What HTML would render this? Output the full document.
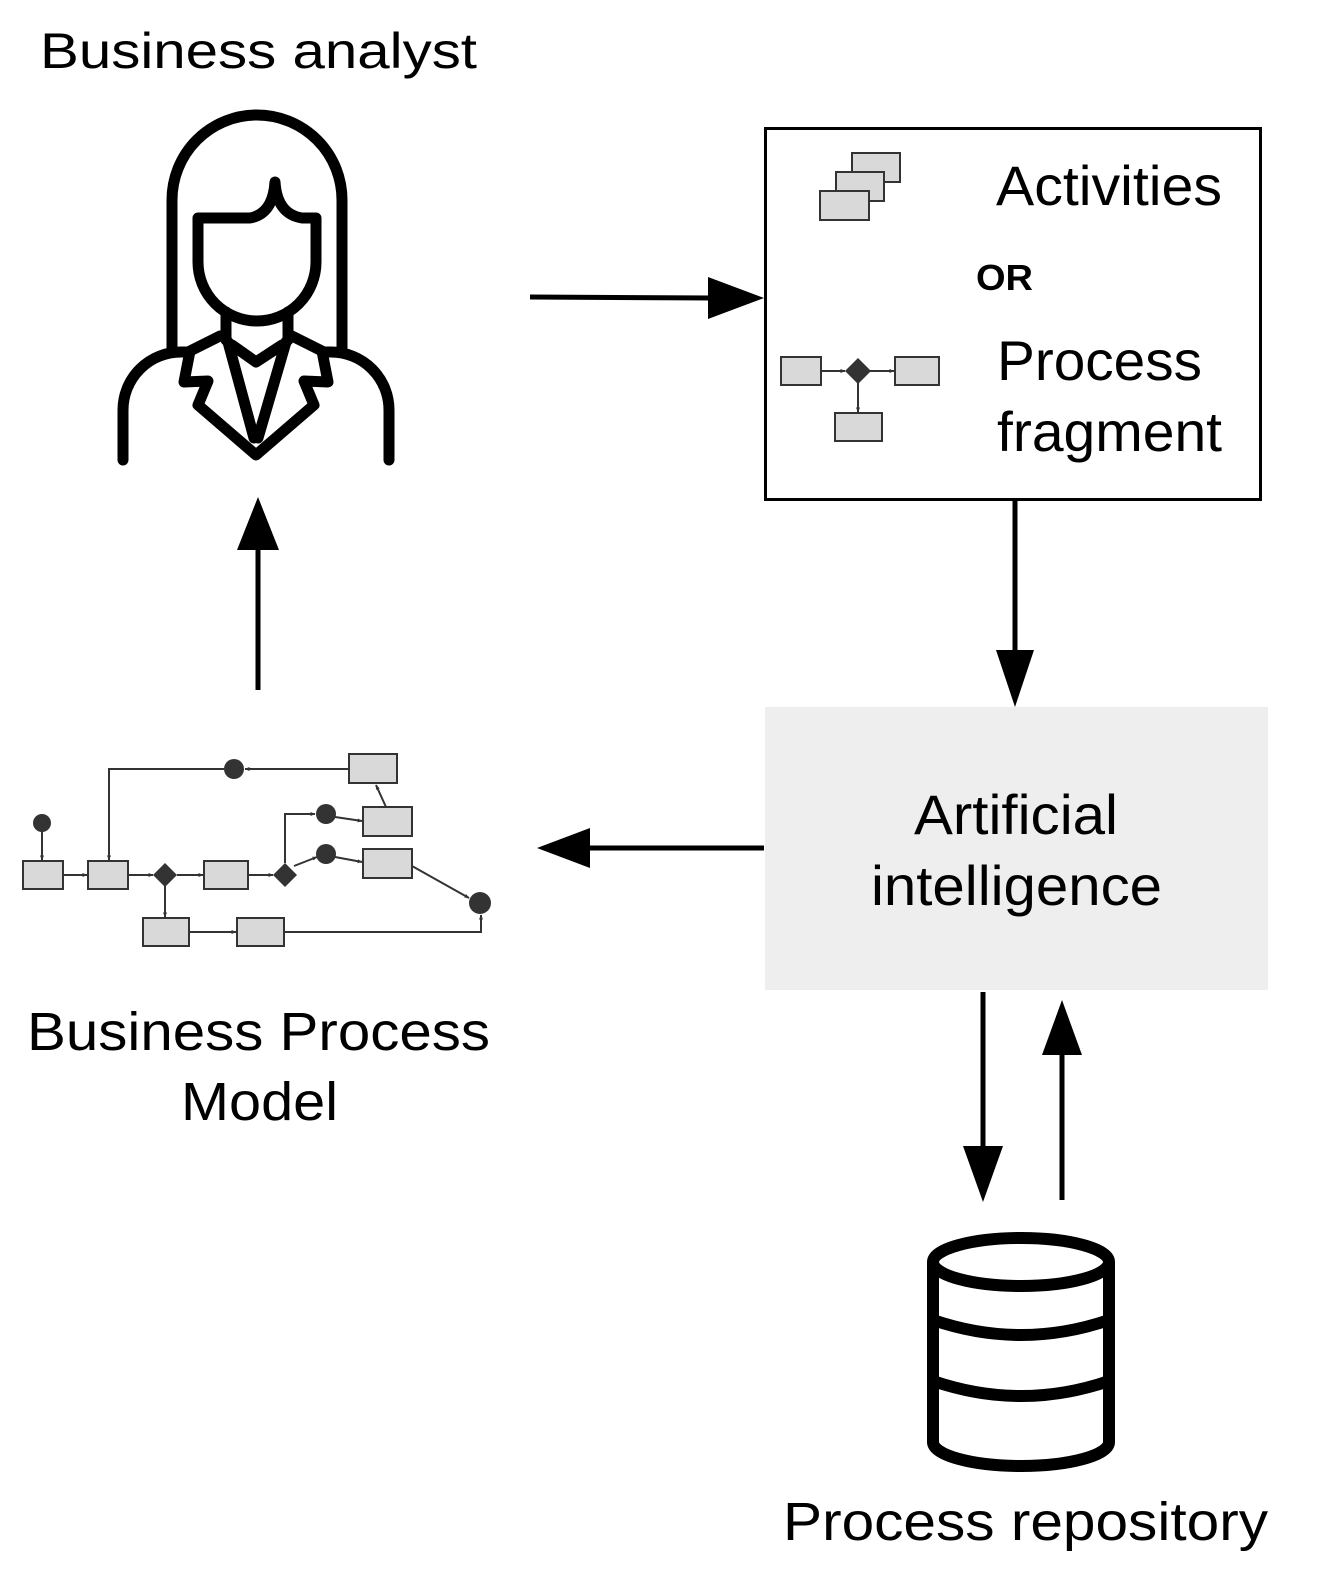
<!DOCTYPE html>
<html><head><meta charset="utf-8"><style>
html,body{margin:0;padding:0;background:#fff;}
svg{display:block;}
text{font-family:"Liberation Sans",Arial,sans-serif;fill:#000;}
</style></head><body>
<svg width="1327" height="1584" viewBox="0 0 1327 1584" xmlns="http://www.w3.org/2000/svg">
<defs>
<marker id="sa" viewBox="0 0 10 10" refX="9" refY="5" markerWidth="5" markerHeight="5" orient="auto" markerUnits="userSpaceOnUse"><path d="M0,1 L10,5 L0,9 Z" fill="#333"/></marker>
</defs>
<!-- Labels -->
<text x="40" y="68" font-size="50" textLength="437" lengthAdjust="spacingAndGlyphs">Business analyst</text>
<text x="27" y="1050" font-size="54" textLength="463" lengthAdjust="spacingAndGlyphs">Business Process</text>
<text x="181" y="1120" font-size="54" textLength="157" lengthAdjust="spacingAndGlyphs">Model</text>
<text x="783" y="1540" font-size="54" textLength="485" lengthAdjust="spacingAndGlyphs">Process repository</text>

<!-- Person -->
<g fill="none" stroke="#000" stroke-width="11" stroke-linecap="round" stroke-linejoin="round">
<path d="M172,348 L172,200 A85,85 0 0 1 342,200 L342,348"/>
<path d="M198,218 L198,262 A59,59 0 0 0 316,262 L316,218 L302,218 Q277,214 275,182 Q273,214 250,218 Z"/>
<path d="M226,312 L226,340 M288,312 L288,340"/>
<path d="M232,345 L256,362 L282,345"/>
<path d="M123,460 L123,410 A58,58 0 0 1 181,352 L190,352"/>
<path d="M389,460 L389,410 A58,58 0 0 0 331,352 L322,352"/>
<path d="M220,336 L190,351 L184,382 L208,381 L198,405 L256,455 L314,405 L304,381 L328,382 L322,351 L292,336"/>
<path d="M228,342 L254,438 M286,342 L258,438"/>
</g>

<!-- Arrows -->
<g stroke="#000" stroke-width="5" fill="#000">
<line x1="530" y1="297" x2="712" y2="298"/>
<polygon points="708,277 764,298 708,319" stroke="none"/>
<line x1="1015" y1="501" x2="1015" y2="655"/>
<polygon points="996,650 1034,650 1015,707" stroke="none"/>
<line x1="764" y1="848" x2="585" y2="848"/>
<polygon points="590,828 590,868 537,848" stroke="none"/>
<line x1="258" y1="690" x2="258" y2="545"/>
<polygon points="237,550 279,550 258,497" stroke="none"/>
<line x1="983" y1="992" x2="983" y2="1150"/>
<polygon points="963,1146 1003,1146 983,1202" stroke="none"/>
<line x1="1062" y1="1200" x2="1062" y2="1050"/>
<polygon points="1042,1055 1082,1055 1062,1000" stroke="none"/>
</g>

<!-- Top right box -->
<rect x="765.5" y="128.5" width="495" height="371" fill="#fff" stroke="#000" stroke-width="3"/>
<g fill="#d9d9d9" stroke="#333" stroke-width="2">
<rect x="852" y="153" width="48" height="29"/>
<rect x="836" y="172" width="48" height="29"/>
<rect x="820" y="191" width="49" height="29"/>
<rect x="781" y="357" width="40" height="28"/>
<rect x="895" y="357" width="44" height="28"/>
<rect x="835" y="413" width="47" height="28"/>
</g>
<g stroke="#333" stroke-width="2" fill="none">
<line x1="821" y1="371" x2="845" y2="371" marker-end="url(#sa)"/>
<line x1="870" y1="371" x2="894" y2="371" marker-end="url(#sa)"/>
<line x1="858" y1="383" x2="858" y2="412" marker-end="url(#sa)"/>
</g>
<polygon points="858,358 871,371 858,384 845,371" fill="#333"/>
<text x="996" y="205" font-size="56" textLength="226" lengthAdjust="spacingAndGlyphs">Activities</text>
<text x="976" y="290" font-size="36" font-weight="bold" textLength="57" lengthAdjust="spacingAndGlyphs">OR</text>
<text x="997" y="380" font-size="56" textLength="205" lengthAdjust="spacingAndGlyphs">Process</text>
<text x="997" y="451" font-size="56" textLength="225" lengthAdjust="spacingAndGlyphs">fragment</text>

<!-- AI box -->
<rect x="765" y="707" width="503" height="283" fill="#eeeeee"/>
<text x="914" y="834" font-size="56" textLength="204" lengthAdjust="spacingAndGlyphs">Artificial</text>
<text x="871" y="905" font-size="56" textLength="291" lengthAdjust="spacingAndGlyphs">intelligence</text>

<!-- Database -->
<g fill="none" stroke="#000" stroke-width="12" stroke-linejoin="round">
<ellipse cx="1021" cy="1262" rx="88" ry="24"/>
<path d="M933,1262 L933,1442 A88,24 0 0 0 1109,1442 L1109,1262"/>
<path d="M933,1320 Q1021,1350 1109,1320"/>
<path d="M933,1381 Q1021,1411 1109,1381"/>
</g>

<!-- Process model -->
<g fill="#d9d9d9" stroke="#333" stroke-width="2">
<rect x="23" y="861" width="40" height="28"/>
<rect x="88" y="861" width="40" height="28"/>
<rect x="204" y="861" width="44" height="28"/>
<rect x="349" y="754" width="48" height="29"/>
<rect x="363" y="807" width="49" height="29"/>
<rect x="363" y="849" width="49" height="29"/>
<rect x="143" y="918" width="46" height="28"/>
<rect x="237" y="918" width="47" height="28"/>
</g>
<g stroke="#333" stroke-width="2" fill="none">
<line x1="42" y1="830" x2="42" y2="860" marker-end="url(#sa)"/>
<line x1="63" y1="875" x2="87" y2="875" marker-end="url(#sa)"/>
<line x1="128" y1="875" x2="153" y2="875" marker-end="url(#sa)"/>
<line x1="177" y1="875" x2="203" y2="875" marker-end="url(#sa)"/>
<line x1="248" y1="875" x2="273" y2="875" marker-end="url(#sa)"/>
<line x1="165" y1="886" x2="165" y2="917" marker-end="url(#sa)"/>
<line x1="189" y1="932" x2="236" y2="932" marker-end="url(#sa)"/>
<path d="M284,932 L481,932 L481,915" marker-end="url(#sa)"/>
<line x1="349" y1="769" x2="245" y2="769" marker-end="url(#sa)"/>
<path d="M224,769 L109,769 L109,860" marker-end="url(#sa)"/>
<path d="M285,863 L285,814 L315,814" marker-end="url(#sa)"/>
<line x1="335" y1="817" x2="362" y2="821" marker-end="url(#sa)"/>
<line x1="294" y1="866" x2="317" y2="857" marker-end="url(#sa)"/>
<line x1="335" y1="857" x2="362" y2="862" marker-end="url(#sa)"/>
<line x1="386" y1="807" x2="376" y2="785" marker-end="url(#sa)"/>
<line x1="412" y1="866" x2="469" y2="898" marker-end="url(#sa)"/>
</g>
<g fill="#333">
<circle cx="42" cy="823" r="9"/>
<circle cx="234" cy="769" r="10"/>
<circle cx="326" cy="814" r="10"/>
<circle cx="326" cy="854" r="10"/>
<circle cx="480" cy="903" r="11"/>
<polygon points="165,863 177,875 165,887 153,875"/>
<polygon points="285,863 297,875 285,887 273,875"/>
</g>
</svg>
</body></html>
